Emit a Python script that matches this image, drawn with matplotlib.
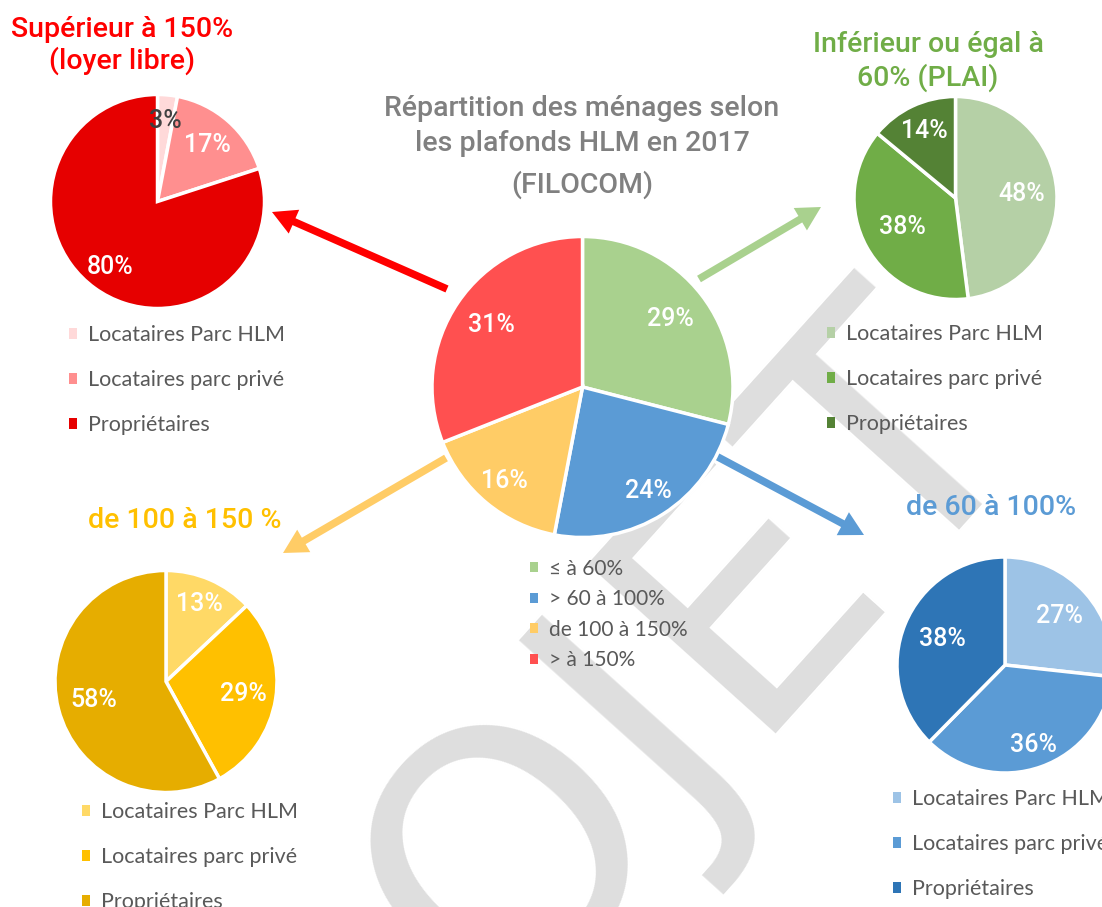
import numpy as np
import matplotlib
matplotlib.use('Agg')
import matplotlib.pyplot as plt
from matplotlib.patches import Patch

# ---------------- data ----------------
main_title = ['Répartition des ménages selon', 'les plafonds HLM en 2017', '(FILOCOM)']
main_labels = ['≤ à 60%', '> 60 à 100%', 'de 100 à 150%', '> à 150%']
main_values = [29, 24, 16, 31]
main_colors = ['#A9D18E', '#5B9BD5', '#FFCC66', '#FF5050']

sub_labels = ['Locataires Parc HLM', 'Locataires parc privé', 'Propriétaires']

libre_title = ['Supérieur à 150%', '(loyer libre)']
libre_values = [3, 17, 80]
libre_colors = ['#FFD9D9', '#FF8F8F', '#E60000']

plai_title = ['Inférieur ou égal à', '60% (PLAI)']
plai_values = [48, 38, 14]
plai_colors = ['#B5D0A6', '#70AD47', '#548235']

mid_title = ['de 60 à 100%']
mid_values = [27, 36, 38]
mid_colors = ['#9DC3E6', '#5B9BD5', '#2E75B6']

inter_title = ['de 100 à 150 %']
inter_values = [13, 29, 58]
inter_colors = ['#FFD966', '#FFC000', '#E6AD00']

# ---------------- layout (pixels) ----------------
W, H = 1102, 907
fig = plt.figure(figsize=(W / 100, H / 100), dpi=100)

TITLE_FONT = ['Roboto', 'DejaVu Sans']
LEG_FONT = ['Lato', 'DejaVu Sans']

# background axes in pixel coordinates (watermark + arrows)
bg = fig.add_axes([0, 0, 1, 1], zorder=0)
bg.set_xlim(0, W)
bg.set_ylim(H, 0)
bg.axis('off')

bg.text(540, 815, 'PROJET', fontsize=250, rotation=48, rotation_mode='anchor',
        ha='center', va='center', color='#DEDEDE', family='DejaVu Sans', zorder=0)

arrows = [  # tail, tip, colour
    ((447, 289), (272, 212), '#FF0000'),
    ((699, 279), (821, 207), '#A9D18E'),
    ((446, 458), (283, 553), '#FFCC66'),
    ((716, 456), (864, 535), '#5B9BD5'),
]
for (x0, y0), (x1, y1), c in arrows:
    bg.arrow(x0, y0, x1 - x0, y1 - y0, width=7.5, head_width=26, head_length=24,
             length_includes_head=True, color=c, lw=0, zorder=1)


def pie_at(cx, cy, r, values, colors, dists, txtcolors=None, fs=18):
    pad = 1.03
    rr = r * pad
    ax = fig.add_axes([(cx - rr) / W, 1 - (cy + rr) / H, 2 * rr / W, 2 * rr / H], zorder=2)
    wedges, _, autot = ax.pie(values, colors=colors, startangle=90, counterclock=False,
                              radius=1, autopct='%1.0f%%', pctdistance=0.75,
                              wedgeprops=dict(edgecolor='white', linewidth=2.5),
                              textprops=dict(color='white', fontsize=fs, family=TITLE_FONT,
                                             weight='medium'))
    for i, (t, v, w, d) in enumerate(zip(autot, values, wedges, dists)):
        t.set_text(f'{v}%')
        ang = np.deg2rad((w.theta1 + w.theta2) / 2)
        t.set_position((d * np.cos(ang), d * np.sin(ang)))
        if txtcolors:
            t.set_color(txtcolors[i])
    ax.set_xlim(-pad, pad)
    ax.set_ylim(-pad, pad)
    ax.axis('off')
    ax.patch.set_alpha(0)
    return wedges


def legend_at(x, yc, labels, colors, fs=15.5, pitch=44.2):
    handles = [Patch(facecolor=c, edgecolor='none') for c in colors]
    fspx = fs * 100 / 72
    ytop = yc - 0.31 * fspx
    leg = fig.legend(handles, labels, loc='upper left',
                     bbox_to_anchor=(x / W, 1 - ytop / H), frameon=False,
                     borderpad=0, borderaxespad=0, handlelength=8 / fspx,
                     handleheight=8 / fspx, handletextpad=11 / fspx,
                     labelspacing=(pitch - 0.897 * fspx) / fspx,
                     prop=dict(family=LEG_FONT, size=fs), labelcolor='#595959')
    return leg


def title_lines(xc, baselines, lines, color, fs=20.5):
    for y, s in zip(baselines, lines):
        fig.text(xc / W, 1 - y / H, s, ha='center', va='baseline', color=color,
                 fontsize=fs, family=TITLE_FONT, weight='medium')


# central pie
pie_at(582.5, 387, 150.5, main_values, main_colors, [0.74, 0.82, 0.81, 0.73])
title_lines(582, [116, 151, 193], main_title, '#808080')
legend_at(530, 565, main_labels, main_colors, fs=15, pitch=29.3)

# top-left
pie_at(157.5, 201.5, 107, libre_values, libre_colors, [0.76, 0.71, 0.76],
       ['#404040', 'white', 'white'])
title_lines(122, [37, 69], libre_title, '#FF0000')
legend_at(69, 332, sub_labels, libre_colors)

# top-right
pie_at(955.5, 198, 101.5, plai_values, plai_colors, [0.655, 0.60, 0.73])
title_lines(928, [52, 86], plai_title, '#70AD47')
legend_at(827, 331, sub_labels, plai_colors)

# bottom-right
pie_at(1005, 665, 108, mid_values, mid_colors, [0.68, 0.79, 0.63])
title_lines(991, [515], mid_title, '#5B9BD5')
legend_at(893, 796, sub_labels, mid_colors)

# bottom-left
pie_at(166, 681.5, 111, inter_values, inter_colors, [0.76, 0.71, 0.67])
title_lines(185, [528], inter_title, '#FFC000')
legend_at(82, 809, sub_labels, inter_colors)

fig.savefig('out.png', dpi=100, facecolor='white')
